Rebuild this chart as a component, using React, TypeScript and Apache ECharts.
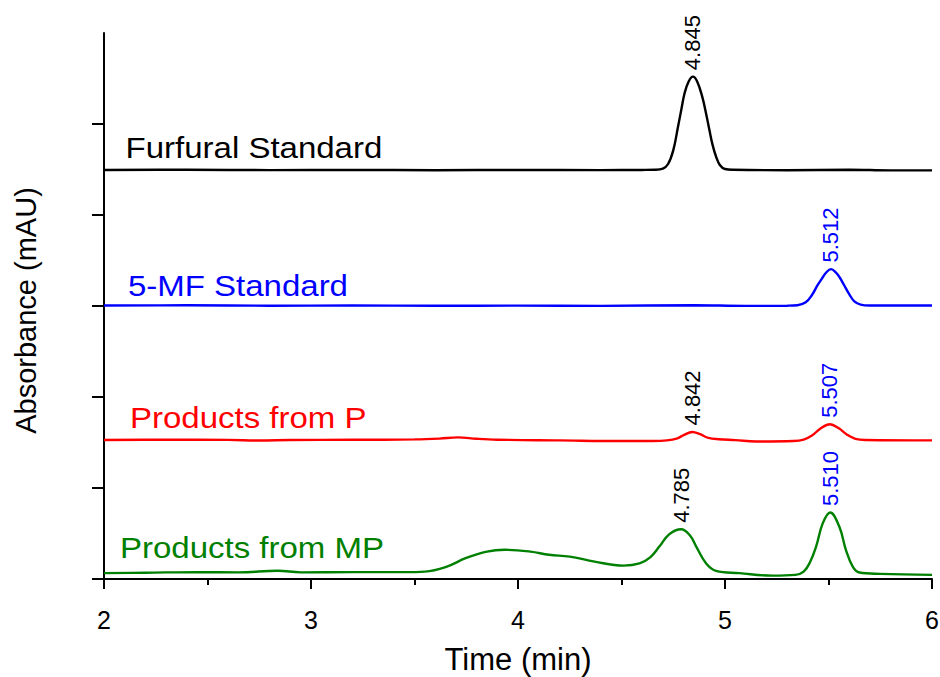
import React, { useEffect, useRef } from "react";
import * as echarts from "echarts";

// Trace names
const traceNames = ["Furfural Standard", "5-MF Standard", "Products from P", "Products from MP"];
const traceColors = ["#000000", "#0000FF", "#FF0000", "#008000"];

// x-axis ticks
const xTicks = [2, 3, 4, 5, 6];
// y tick positions (no labels)
const yTicks = [0, 1, 2, 3, 4, 5];

// Traces: [time (min), absorbance (offset units)]
const furfural: number[][] = [
  [2.0, 4.495], [2.4, 4.497], [2.8, 4.493], [3.2, 4.495], [3.6, 4.492], [4.0, 4.495],
  [4.4, 4.493], [4.6, 4.495], [4.66, 4.497], [4.70, 4.51], [4.725, 4.56], [4.75, 4.71], [4.773, 4.97],
  [4.79, 5.17], [4.805, 5.34], [4.825, 5.47], [4.845, 5.52], [4.865, 5.47], [4.89, 5.30], [4.91, 5.10],
  [4.925, 4.93], [4.94, 4.77], [4.957, 4.64], [4.975, 4.55], [5.0, 4.505], [5.04, 4.497],
  [5.3, 4.492], [5.6, 4.497], [5.8, 4.49], [6.0, 4.49],
];
const mfStandard: number[][] = [
  [2.0, 3.005], [2.4, 3.007], [2.8, 3.003], [3.2, 3.005], [3.6, 3.002], [4.0, 3.004],
  [4.4, 3.001], [4.85, 3.008], [5.1, 3.001], [5.3, 3.003], [5.35, 3.008], [5.39, 3.04],
  [5.42, 3.12], [5.445, 3.22], [5.465, 3.29], [5.49, 3.37], [5.512, 3.405], [5.535, 3.37],
  [5.555, 3.31], [5.575, 3.23], [5.6, 3.13], [5.625, 3.05], [5.655, 3.015], [5.70, 3.005],
  [6.0, 3.005],
];
const productsP: number[][] = [
  [2.0, 1.527], [2.3, 1.53], [2.6, 1.528], [2.75, 1.521], [2.9, 1.527], [3.2, 1.529],
  [3.5, 1.533], [3.62, 1.542], [3.71, 1.555], [3.8, 1.54], [3.9, 1.53], [4.2, 1.522],
  [4.5, 1.515], [4.65, 1.515], [4.72, 1.522], [4.77, 1.545], [4.80, 1.58], [4.842, 1.615],
  [4.88, 1.59], [4.92, 1.55], [4.97, 1.535], [5.05, 1.525], [5.15, 1.51], [5.33, 1.515],
  [5.38, 1.53], [5.42, 1.575], [5.46, 1.65], [5.507, 1.70], [5.55, 1.655], [5.59, 1.585],
  [5.63, 1.54], [5.68, 1.527], [6.0, 1.522],
];
const productsMP: number[][] = [
  [2.0, 0.063], [2.2, 0.068], [2.45, 0.075], [2.65, 0.072], [2.84, 0.09], [2.95, 0.072],
  [3.2, 0.074], [3.45, 0.074], [3.55, 0.08], [3.65, 0.13], [3.75, 0.23], [3.85, 0.3],
  [3.935, 0.32], [4.06, 0.30], [4.15, 0.265], [4.25, 0.245], [4.37, 0.19], [4.51, 0.146],
  [4.587, 0.17], [4.64, 0.24], [4.683, 0.355], [4.73, 0.49], [4.788, 0.546], [4.83, 0.48],
  [4.861, 0.355], [4.909, 0.17], [4.957, 0.088], [5.07, 0.063], [5.23, 0.036], [5.34, 0.044],
  [5.38, 0.08], [5.41, 0.18], [5.44, 0.355], [5.472, 0.61], [5.508, 0.73], [5.552, 0.575],
  [5.584, 0.32], [5.617, 0.135], [5.649, 0.07], [5.75, 0.055], [6.0, 0.044],
];
const traces = [furfural, mfStandard, productsP, productsMP];

// Peak annotations per trace: [time, peak absorbance] and their labels
const furfuralPeaks: number[][] = [[4.845, 5.52]];
const mfPeaks: number[][] = [[5.512, 3.405]];
const pPeaks: number[][] = [[4.842, 1.615], [5.507, 1.70]];
const mpPeaks: number[][] = [[4.788, 0.546], [5.508, 0.73]];
const furfuralPeakLabels = ["4.845"];
const mfPeakLabels = ["5.512"];
const pPeakLabels = ["4.842", "5.507"];
const mpPeakLabels = ["4.785", "5.510"];
const peaks = [furfuralPeaks, mfPeaks, pPeaks, mpPeaks];
const peakLabels = [furfuralPeakLabels, mfPeakLabels, pPeakLabels, mpPeakLabels];

const FONT = "'Liberation Sans', Arial, Helvetica, sans-serif";

export default function App() {
  const ref = useRef<HTMLDivElement>(null);
  useEffect(() => {
    if (!ref.current) return;
    const chart = echarts.init(ref.current, undefined, { renderer: "svg" });

    const peakColor = (t: number) => (t < 5.2 ? "#000000" : "#0000FF");

    const series = traces.map((d, i) => ({
      type: "line",
      name: traceNames[i],
      data: d,
      showSymbol: false,
      smooth: 0.4,
      lineStyle: { color: traceColors[i], width: 2.4 },
      itemStyle: { color: traceColors[i] },
      markPoint: {
        symbol: "circle",
        symbolSize: 1,
        itemStyle: { color: "rgba(0,0,0,0)" },
        data: peaks[i].map((p, k) => ({
          coord: p,
          label: {
            show: true,
            formatter: peakLabels[i][k],
            position: "top",
            distance: 6,
            rotate: 90,
            align: "left",
            verticalAlign: "middle",
            fontSize: 22,
            fontFamily: FONT,
            color: peakColor(p[0]),
          },
        })),
      },
    }));

    const labelPos = [
      [125.6, 147.6],
      [128, 285.6],
      [130, 417.6],
      [120, 547.6],
    ];

    chart.setOption({
      animation: false,
      backgroundColor: "#ffffff",
      grid: { left: 104, right: 8, top: 33, bottom: 89, outerBoundsMode: "none", containLabel: false },
      xAxis: {
        type: "value",
        min: xTicks[0],
        max: xTicks[xTicks.length - 1],
        interval: 1,
        name: "Time (min)",
        nameLocation: "middle",
        nameGap: 56,
        nameTextStyle: { fontSize: 31, fontFamily: FONT, color: "#000" },
        axisLine: { show: true, lineStyle: { color: "#000", width: 2 } },
        axisTick: { show: true, inside: false, length: 10, lineStyle: { color: "#000", width: 2 } },
        minorTick: { show: true, splitNumber: 2, length: 6, lineStyle: { color: "#000", width: 2 } },
        axisLabel: { fontSize: 25, fontFamily: FONT, color: "#000", margin: 19 },
        splitLine: { show: false },
        minorSplitLine: { show: false },
      },
      yAxis: {
        type: "value",
        min: -0.1,
        max: 6,
        name: "Absorbance (mAU)",
        nameLocation: "middle",
        nameGap: 64,
        nameTextStyle: { fontSize: 29, fontFamily: FONT, color: "#000" },
        axisLine: { show: true, lineStyle: { color: "#000", width: 2 } },
        axisTick: { show: true, inside: false, length: 12, customValues: yTicks, lineStyle: { color: "#000", width: 2 } },
        axisLabel: { show: false },
        splitLine: { show: false },
      },
      series,
      graphic: traceNames.map((t, i) => ({
        type: "text",
        x: labelPos[i][0],
        y: labelPos[i][1],
        scaleX: 1.1,
        style: {
          text: t,
          fontSize: 30,
          fontFamily: FONT,
          fill: traceColors[i],
          verticalAlign: "middle",
          align: "left",
        },
      })),
    });
    return () => chart.dispose();
  }, []);
  return <div ref={ref} style={{ width: 940, height: 677, position: "absolute", left: 0, top: 0 }} />;
}
